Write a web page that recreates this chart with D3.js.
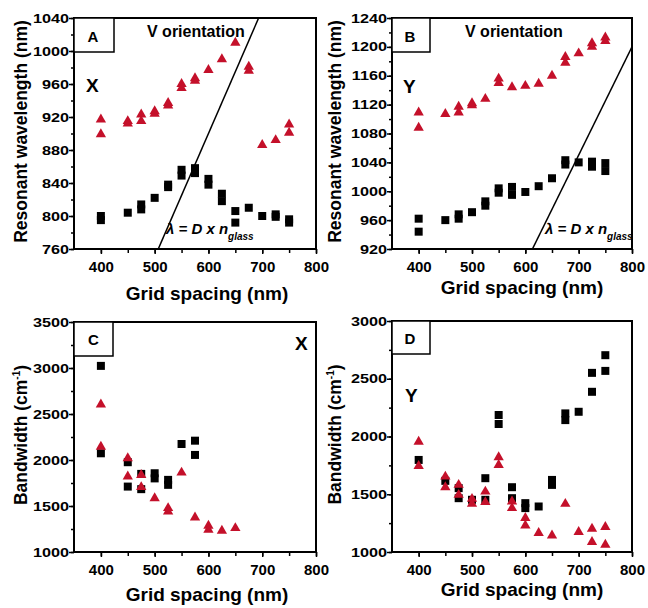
<!DOCTYPE html>
<html>
<head>
<meta charset="utf-8">
<script src="https://cdn.jsdelivr.net/npm/d3@7"></script>
<style>
body { margin: 0; background: #fff; }
svg text { font-family: "Liberation Sans", Arial, sans-serif; font-weight: bold; fill: #000; }
</style>
</head>
<body>
<div id="chart"></div>
<script>
// ---- data ----
// panel A: resonant wavelength, X
var spacingASq  = [400,400,450,475,475,500,525,525,550,550,575,575,600,600,625,625,650,650,675,700,725,725,750,750];
var waveASq     = [800,795,804,814,808,822,838,835,856,849,858,852,845,838,827,818,806,792,810,800,802,799,796,792];
var spacingATri = [400,400,450,450,475,475,500,500,525,525,550,550,575,575,600,625,650,675,675,700,725,750,750];
var waveATri    = [917,899,915,912,923,915,927,924,937,934,960,955,967,964,977,990,1010,981,976,886,892,911,901];

// panel B: resonant wavelength, Y
var spacingBSq  = [400,400,450,475,475,500,525,525,550,550,575,575,600,625,650,675,675,700,725,725,750,750];
var waveBSq     = [962,944,960,968,962,971,986,980,1004,998,1006,995,999,1007,1018,1043,1037,1040,1041,1034,1039,1028];
var spacingBTri = [400,400,450,475,475,500,500,525,550,550,575,600,625,650,675,675,700,725,725,750,750];
var waveBTri    = [1109,1088,1107,1117,1109,1122,1119,1128,1156,1150,1144,1146,1149,1160,1186,1178,1191,1205,1200,1213,1208];

// panel C: bandwidth, X
var spacingCSq  = [400,400,450,450,475,475,500,500,525,525,550,575,575];
var bandCSq     = [3023,2073,1976,1711,1849,1683,1856,1800,1784,1730,2174,2210,2055];
var spacingCTri = [400,400,450,450,475,475,500,525,525,550,575,600,600,625,650];
var bandCTri    = [2604,2145,2019,1820,1838,1705,1585,1477,1440,1863,1375,1285,1242,1231,1260];

// panel D: bandwidth, Y
var spacingDSq  = [400,450,475,475,500,525,525,550,550,575,575,600,600,625,650,650,675,675,700,725,725,750,750];
var bandDSq     = [1797,1616,1553,1466,1452,1639,1452,2186,2108,1561,1466,1423,1380,1394,1624,1581,2200,2142,2214,2551,2387,2704,2568];
var spacingDTri = [400,400,450,450,475,475,500,500,525,525,550,550,575,575,600,600,625,650,675,700,725,725,750,750];
var bandDTri    = [1955,1745,1653,1561,1581,1495,1460,1417,1523,1432,1820,1754,1437,1380,1294,1230,1164,1143,1417,1173,1201,1086,1216,1063];

// tick labels
var spacingTicks = [400, 500, 600, 700, 800];
var waveTicksA = [760, 800, 840, 880, 920, 960, 1000, 1040];
var waveTicksB = [920, 960, 1000, 1040, 1080, 1120, 1160, 1200, 1240];
var bandTicksC = [1000, 1500, 2000, 2500, 3000, 3500];
var bandTicksD = [1000, 1500, 2000, 2500, 3000];

var nGlass = 1.5; // lambda = D x n_glass
// -----------------------------------

var red = "#c4102a";

var svg = d3.select("#chart").append("svg")
    .attr("width", 648)
    .attr("height", 608);

var panels = [
  {letter: "A", pol: "X", left: 74, top: 18, width: 242, height: 231,
   ydom: [760, 1040], yticks: waveTicksA, yminor: 20, ytitle: "Resonant wavelength (nm)",
   sqx: spacingASq, sqy: waveASq, trx: spacingATri, try_: waveATri,
   boxLetterX: 93, boxLetterY: 41.5, boxW: 40, boxH: 34,
   polX: 86, polY: 92, orient: true, line: true, lamX: 166, xtitleX: 207, xtitleY: 300, ytitleX: 27},
  {letter: "B", pol: "Y", left: 392, top: 18, width: 240, height: 231,
   ydom: [920, 1240], yticks: waveTicksB, yminor: 20, ytitle: "Resonant wavelength (nm)",
   sqx: spacingBSq, sqy: waveBSq, trx: spacingBTri, try_: waveBTri,
   boxLetterX: 410, boxLetterY: 42, boxW: 38, boxH: 34,
   polX: 403, polY: 93, orient: true, line: true, lamX: 545, xtitleX: 522, xtitleY: 294, ytitleX: 341},
  {letter: "C", pol: "X", left: 74, top: 322, width: 242, height: 230,
   ydom: [1000, 3500], yticks: bandTicksC, yminor: 250, ytitle: "Bandwidth",
   sqx: spacingCSq, sqy: bandCSq, trx: spacingCTri, try_: bandCTri,
   boxLetterX: 93.5, boxLetterY: 345, boxW: 39, boxH: 34,
   polX: 295, polY: 350, orient: false, line: false, xtitleX: 207, xtitleY: 601, ytitleX: 27},
  {letter: "D", pol: "Y", left: 392, top: 321, width: 240, height: 231,
   ydom: [1000, 3000], yticks: bandTicksD, yminor: 250, ytitle: "Bandwidth",
   sqx: spacingDSq, sqy: bandDSq, trx: spacingDTri, try_: bandDTri,
   boxLetterX: 410, boxLetterY: 344, boxW: 38, boxH: 33,
   polX: 405, polY: 402, orient: false, line: false, xtitleX: 522, xtitleY: 596, ytitleX: 341}
];

panels.forEach(function (p, pi) {
  var g = svg.append("g")
      .attr("transform", "translate(" + p.left + "," + p.top + ")");

  var x = d3.scaleLinear().domain([350, 800]).range([0, p.width]);
  var y = d3.scaleLinear().domain(p.ydom).range([p.height, 0]);

  // minor ticks
  var yMinor = d3.range(p.ydom[0], p.ydom[1] + 1, p.yminor);
  var xMinor = d3.range(400, 801, 50);

  g.append("g")
      .attr("transform", "translate(0," + p.height + ")")
      .call(d3.axisBottom(x).tickValues(xMinor).tickSize(4).tickSizeOuter(0).tickFormat(""))
      .call(function (a) { a.select(".domain").remove(); })
      .selectAll("line").attr("stroke-width", 1.5);

  g.append("g")
      .call(d3.axisLeft(y).tickValues(yMinor).tickSize(3).tickSizeOuter(0).tickFormat(""))
      .call(function (a) { a.select(".domain").remove(); })
      .selectAll("line").attr("stroke-width", 1.5);

  // major ticks + labels
  var xa = g.append("g")
      .attr("transform", "translate(0," + p.height + ")")
      .call(d3.axisBottom(x).tickValues(spacingTicks).tickSize(5).tickPadding(7).tickSizeOuter(0));
  xa.select(".domain").remove();
  xa.selectAll("line").attr("stroke-width", 1.5);
  xa.selectAll("text").style("font-size", "15px").attr("fill", "#000");

  var ya = g.append("g")
      .call(d3.axisLeft(y).tickValues(p.yticks).tickSize(5).tickPadding(1).tickSizeOuter(0)
            .tickFormat(d3.format("d")));
  ya.select(".domain").remove();
  ya.selectAll("line").attr("stroke-width", 1.5);
  ya.selectAll("text")
      .style("font-size", "12.5px")
      .attr("fill", "#000")
      .attr("x", -5 / 1.3)
      .attr("transform", "scale(1.3,1)");

  // frame
  g.append("rect")
      .attr("width", p.width).attr("height", p.height)
      .attr("fill", "none").attr("stroke", "#000").attr("stroke-width", 2);

  // clip
  g.append("clipPath").attr("id", "clip" + pi)
    .append("rect").attr("width", p.width).attr("height", p.height);

  var plot = g.append("g").attr("clip-path", "url(#clip" + pi + ")");

  if (p.line) {
    var lineData = [350, 800].map(function (d) { return [d, d * nGlass]; });
    plot.append("path")
        .datum(lineData)
        .attr("fill", "none")
        .attr("stroke", "#000")
        .attr("stroke-width", 1.5)
        .attr("d", d3.line().x(function (d) { return x(d[0]); }).y(function (d) { return y(d[1]); }));
  }

  // squares
  plot.selectAll(".sq")
      .data(p.sqx)
      .enter().append("path")
      .attr("class", "sq")
      .attr("d", d3.symbol(d3.symbolSquare, 64)())
      .attr("transform", function (d, i) { return "translate(" + x(d) + "," + y(p.sqy[i]) + ")"; })
      .attr("fill", "#000");

  // triangles
  plot.selectAll(".tri")
      .data(p.trx)
      .enter().append("path")
      .attr("class", "tri")
      .attr("d", d3.symbol(d3.symbolTriangle, 46)())
      .attr("transform", function (d, i) { return "translate(" + x(d) + "," + y(p.try_[i]) + ")"; })
      .attr("fill", red);

  // panel letter box
  g.append("rect")
      .attr("width", p.boxW).attr("height", p.boxH)
      .attr("fill", "#fff").attr("stroke", "#000").attr("stroke-width", 1.5);
  svg.append("text")
      .attr("x", p.boxLetterX).attr("y", p.boxLetterY)
      .attr("text-anchor", "middle")
      .style("font-size", "15px")
      .text(p.letter);

  // polarization label
  svg.append("text")
      .attr("x", p.polX).attr("y", p.polY)
      .style("font-size", "19px")
      .text(p.pol);

  if (p.orient) {
    svg.append("text")
        .attr("x", p.left + 73).attr("y", 37)
        .style("font-size", "16px")
        .text("V orientation");
  }

  if (p.line) {
    var lt = svg.append("text")
        .attr("x", p.lamX).attr("y", 234)
        .style("font-size", "15px")
        .style("font-style", "italic");
    lt.append("tspan").text("\u03bb = D x n");
    lt.append("tspan").attr("dy", 6).style("font-size", "10px").text("glass");
  }

  // axis titles
  svg.append("text")
      .attr("x", p.xtitleX).attr("y", p.xtitleY)
      .attr("text-anchor", "middle")
      .style("font-size", "19px")
      .text("Grid spacing (nm)");

  var yt = svg.append("text")
      .attr("transform", "translate(" + p.ytitleX + "," + (p.top + p.height / 2 - 2) + ") rotate(-90)")
      .attr("text-anchor", "middle")
      .style("font-size", "17.5px");
  if (p.ytitle === "Bandwidth") {
    yt.append("tspan").text("Bandwidth (cm");
    yt.append("tspan").attr("dy", -7).style("font-size", "10px").text("-1");
    yt.append("tspan").attr("dy", 7).text(")");
  } else {
    yt.text(p.ytitle);
  }
});
</script>
</body>
</html>
